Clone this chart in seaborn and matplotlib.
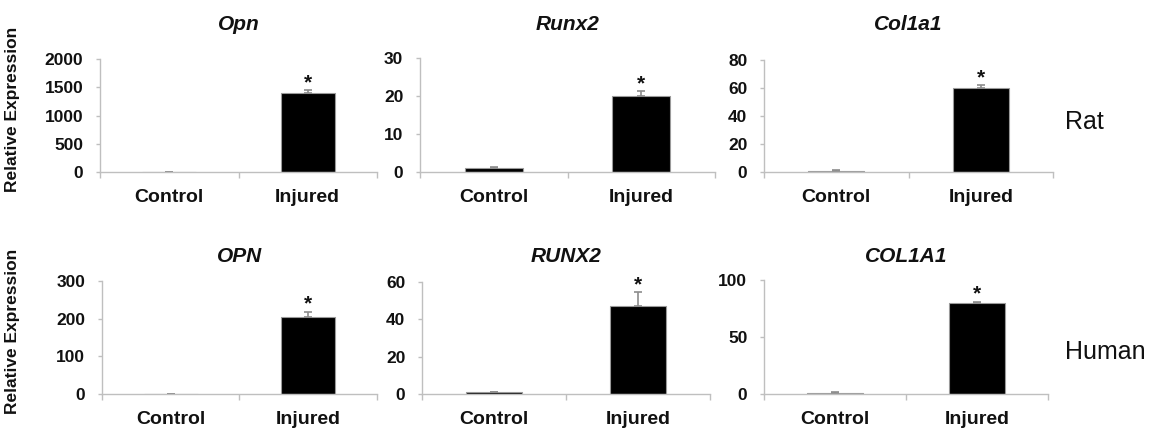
import matplotlib
matplotlib.use("Agg")
import matplotlib.pyplot as plt
import seaborn as sns
import pandas as pd
import numpy as np

# ---- data ----
conditions = ["Control", "Injured"]
rat_genes = ["Opn", "Runx2", "Col1a1"]
human_genes = ["OPN", "RUNX2", "COL1A1"]

rat_control = [1, 1, 1]
rat_injured = [1400, 20, 60]
rat_control_err = [0.3, 0.3, 0.4]
rat_injured_err = [50, 1.2, 1.8]

human_control = [1, 1, 1]
human_injured = [205, 47, 80]
human_control_err = [0.3, 0.2, 0.5]
human_injured_err = [14, 7.5, 1.0]

rat_ymax = [2000, 30, 80]
rat_ystep = [500, 10, 20]
human_ymax = [300, 60, 100]
human_ystep = [100, 20, 50]

species_labels = ["Rat", "Human"]

sns.set_theme(style="white")
plt.rcParams["font.family"] = ["Liberation Sans", "DejaVu Sans"]

fig = plt.figure(figsize=(11.5, 4.28), dpi=100)

W, H = 1150, 428
# axes boxes in pixels: left, right, top, bottom
boxes = [
    [(100, 377, 59, 172), (420, 715, 58, 172), (764, 1053, 60, 172)],
    [(102, 377, 281, 394), (422, 710, 282, 394), (764, 1048, 280, 394)],
]
title_y_px = [25, 256]

rows = [
    (rat_genes, rat_control, rat_injured, rat_control_err, rat_injured_err, rat_ymax, rat_ystep),
    (human_genes, human_control, human_injured, human_control_err, human_injured_err, human_ymax, human_ystep),
]

spine_c = "#bfbfbf"
for r, (genes, ctl, inj, ctl_e, inj_e, ymax, ystep) in enumerate(rows):
    for c in range(3):
        l, rr, t, b = boxes[r][c]
        ax = fig.add_axes([l / W, 1 - b / H, (rr - l) / W, (b - t) / H])
        df = pd.DataFrame({"condition": conditions, "value": [ctl[c], inj[c]]})
        sns.barplot(data=df, x="condition", y="value", order=conditions, ax=ax,
                    color="black", width=0.39, errorbar=None,
                    edgecolor="#9a9a9a", linewidth=0.8, saturation=1)
        ax.errorbar([0, 1], [ctl[c], inj[c]],
                    yerr=[[0, 0], [ctl_e[c], inj_e[c]]],
                    fmt="none", ecolor="#8c8c8c", elinewidth=1.2, capsize=3, capthick=1.2)
        ax.set_xlim(-0.5, 1.5)
        ax.set_ylim(0, ymax[c])
        ax.set_yticks(np.arange(0, ymax[c] + 1e-9, ystep[c]))
        ax.set_xlabel("")
        ax.set_ylabel("")
        for s in ["top", "right"]:
            ax.spines[s].set_visible(False)
        for s in ["left", "bottom"]:
            ax.spines[s].set_color(spine_c)
            ax.spines[s].set_linewidth(1.0)
        ax.tick_params(axis="y", which="major", left=True, length=3, width=1,
                       color=spine_c, pad=9, labelsize=12.5)
        ax.tick_params(axis="x", which="major", bottom=False, length=0, pad=12, labelsize=14)
        ax.set_xticks([-0.5, 0.5, 1.5], minor=True)
        ax.tick_params(axis="x", which="minor", bottom=True, length=4, width=1, color=spine_c)
        for lab in ax.get_yticklabels() + ax.get_xticklabels():
            lab.set_fontweight("bold")
            lab.set_color("#111111")
        # asterisk
        ax.annotate("*", xy=(1, inj[c] + inj_e[c]), xytext=(0, 1.5),
                    textcoords="offset points", ha="center", va="baseline",
                    fontsize=15, fontweight="bold", color="#111111")
        # title
        cx = (l + rr) / 2
        fig.text(cx / W, 1 - title_y_px[r] / H, genes[c], ha="center", va="center",
                 fontsize=15, fontweight="bold", fontstyle="italic", color="#111111")
        if c == 0:
            ax.set_ylabel("Relative Expression", fontsize=12.5, fontweight="bold", color="#111111")
            ax.yaxis.set_label_coords((20 - l) / (rr - l), 0.55)
    ymid = [122, 352][r]
    fig.text(1065 / W, 1 - ymid / H, species_labels[r], ha="left", va="center",
             fontsize=18, color="#111111")

fig.savefig("out.png", dpi=100, facecolor="white")
